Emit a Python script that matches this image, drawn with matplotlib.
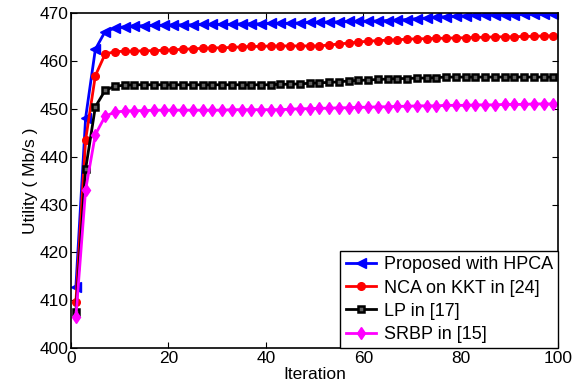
import numpy as np
import matplotlib
matplotlib.use("Agg")
import matplotlib.pyplot as plt

plt.rcParams['font.family'] = ['Liberation Sans', 'DejaVu Sans']

# ========== data ==========
iters = list(range(1, 100, 2))

hpca = [412.8, 448.1, 462.4, 466.1, 466.8, 467.1, 467.3, 467.3, 467.4, 467.4,
        467.5, 467.5, 467.5, 467.6, 467.6, 467.6, 467.6, 467.7, 467.7, 467.7,
        467.8, 467.8, 467.8, 467.9, 468.0, 468.0, 468.1, 468.1, 468.2, 468.2,
        468.3, 468.3, 468.4, 468.5, 468.6, 468.8, 468.9, 469.1, 469.2, 469.3,
        469.4, 469.5, 469.6, 469.6, 469.6, 469.6, 469.7, 469.7, 469.7, 469.7]

nca = [409.6, 443.5, 456.9, 461.4, 461.9, 462.0, 462.0, 462.1, 462.1, 462.2,
       462.3, 462.4, 462.5, 462.6, 462.7, 462.7, 462.8, 462.9, 463.0, 463.0,
       463.1, 463.1, 463.1, 463.1, 463.1, 463.1, 463.3, 463.5, 463.7, 463.9,
       464.1, 464.2, 464.3, 464.4, 464.5, 464.6, 464.6, 464.7, 464.7, 464.8,
       464.8, 464.9, 464.9, 465.0, 465.0, 465.0, 465.1, 465.1, 465.2, 465.2]

lp = [407.5, 437.4, 450.4, 453.8, 454.7, 454.9, 455.0, 455.0, 455.0, 455.0,
      455.0, 455.0, 455.0, 455.0, 455.0, 455.0, 455.0, 455.0, 455.0, 455.0,
      455.0, 455.1, 455.1, 455.2, 455.3, 455.4, 455.5, 455.6, 455.8, 455.9,
      456.0, 456.1, 456.2, 456.3, 456.3, 456.4, 456.4, 456.5, 456.6, 456.6,
      456.6, 456.6, 456.6, 456.6, 456.6, 456.6, 456.6, 456.6, 456.6, 456.6]

srbp = [406.5, 433.1, 444.6, 448.4, 449.3, 449.5, 449.6, 449.6, 449.7, 449.7,
        449.7, 449.7, 449.7, 449.7, 449.7, 449.7, 449.8, 449.8, 449.8, 449.8,
        449.8, 449.8, 449.9, 450.0, 450.0, 450.1, 450.1, 450.2, 450.2, 450.3,
        450.3, 450.4, 450.4, 450.5, 450.5, 450.6, 450.6, 450.6, 450.7, 450.7,
        450.7, 450.8, 450.8, 450.8, 450.9, 450.9, 450.9, 451.0, 451.0, 451.0]

labels = ["Proposed with HPCA", "NCA on KKT in [24]", "LP in [17]", "SRBP in [15]"]

# ========== plot ==========
fig = plt.figure(figsize=(5.82, 3.90), dpi=100)
ax = fig.add_axes([0.122, 0.107, 0.837, 0.860])

ax.plot(iters, hpca, color="#0000ff", marker="<", ms=6.5, lw=2, label=labels[0])
ax.plot(iters, nca, color="#ff0000", marker="o", ms=5.5, lw=2, label=labels[1])
ax.plot(iters, lp, color="k", marker="s", ms=4.5, mfc="#606060", mew=1.8, lw=2, label=labels[2])
ax.plot(iters, srbp, color="#ff00ff", marker="d", ms=6.5, lw=2, label=labels[3])

ax.set_xlim(0, 100)
ax.set_ylim(400, 470)
ax.set_xticks(range(0, 101, 20))
ax.set_yticks(range(400, 471, 10))
ax.tick_params(direction="in", top=True, right=True, labelsize=12.5, length=4, pad=2)
for s in ax.spines.values():
    s.set_linewidth(1.2)

ax.set_xlabel("Iteration", fontsize=12.5, labelpad=1)
ax.set_ylabel("Utility ( Mb/s )", fontsize=12.5, labelpad=1)

leg = ax.legend(loc="lower right", fontsize=13, fancybox=False, framealpha=1,
                edgecolor="k", borderaxespad=0, handlelength=1.7,
                handletextpad=0.4, labelspacing=0.34, borderpad=0.3)
leg.get_frame().set_linewidth(1.0)

plt.savefig("out.png", dpi=100)
plt.close()
